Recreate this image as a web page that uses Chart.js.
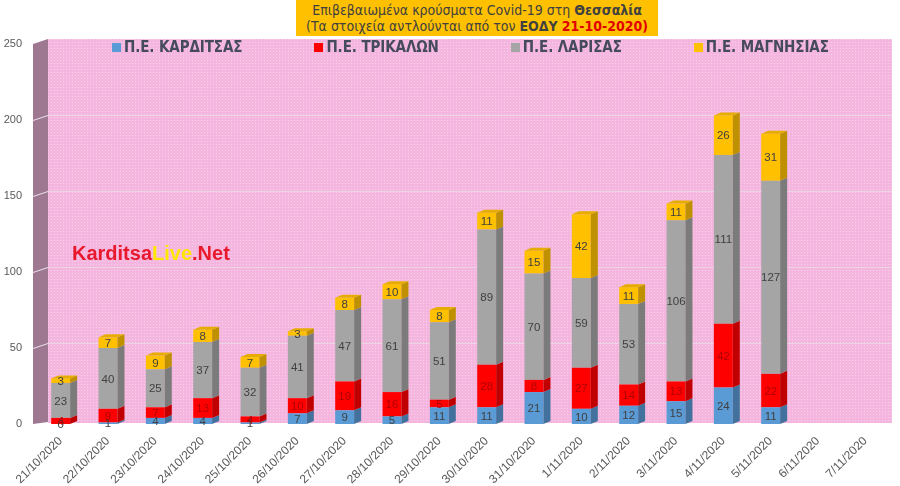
<!DOCTYPE html>
<html>
<head>
<meta charset="utf-8">
<script src="https://cdn.jsdelivr.net/npm/chart.js@4.4.0/dist/chart.umd.min.js"></script>
<style>
    html, body { margin: 0; padding: 0; background: #fff; }
    #wrap { position: relative; width: 900px; height: 486px; overflow: hidden; }
    #title {
        position: absolute; left: 296px; top: 0; width: 362px; height: 36px;
        background: #FFC000; color: #404040; text-align: center;
        font-family: "Liberation Sans Narrow", "DejaVu Sans", sans-serif; font-stretch: condensed;
        font-size: 14px; line-height: 16px; padding-top: 2px; box-sizing: border-box;
    }
    #title .red { color: #E00000; }
    #legend {
        position: absolute; left: 112px; top: 38px; display: flex; gap: 72px;
        font-family: "Liberation Sans Narrow", "DejaVu Sans", sans-serif; font-stretch: condensed;
        font-weight: bold; font-size: 15px; letter-spacing: -0.1px; color: #464A5E; line-height: 18px;
    }
    #legend .sw { display: inline-block; width: 9px; height: 9px; margin-right: 3px; }
    #mark {
        position: absolute; left: 72px; top: 242px; color: #E8192C;
        font-family: "Liberation Sans", sans-serif; font-weight: bold; font-size: 20px;
    }
    #mark span { color: #FFE600; }
</style>
</head>
<body>
<div id="wrap">
    <canvas id="chart" width="900" height="486"></canvas>
    <div id="title">Επιβεβαιωμένα κρούσματα Covid-19 στη <b>Θεσσαλία</b><br>(Τα στοιχεία αντλούνται από τον <b>ΕΟΔΥ</b> <b class="red">21-10-2020)</b></div>
    <div id="legend"></div>
    <div id="mark">Karditsa<span>Live</span>.Net</div>
</div>
<script>
const labels = ['21/10/2020', '22/10/2020', '23/10/2020', '24/10/2020', '25/10/2020', '26/10/2020',
    '27/10/2020', '28/10/2020', '29/10/2020', '30/10/2020', '31/10/2020', '1/11/2020', '2/11/2020',
    '3/11/2020', '4/11/2020', '5/11/2020', '6/11/2020', '7/11/2020']
const karditsa = [0, 1, 4, 4, 1, 7, 9, 5, 11, 11, 21, 10, 12, 15, 24, 11, null, null]
const trikala = [4, 9, 7, 13, 4, 10, 19, 16, 5, 28, 8, 27, 14, 13, 42, 22, null, null]
const larisa = [23, 40, 25, 37, 32, 41, 47, 61, 51, 89, 70, 59, 53, 106, 111, 127, null, null]
const magnisia = [3, 7, 9, 8, 7, 3, 8, 10, 8, 11, 15, 42, 11, 11, 26, 31, null, null]
const seriesNames = ['Π.Ε. ΚΑΡΔΙΤΣΑΣ', 'Π.Ε. ΤΡΙΚΑΛΩΝ', 'Π.Ε. ΛΑΡΙΣΑΣ', 'Π.Ε. ΜΑΓΝΗΣΙΑΣ']
const yTicks = [0, 50, 100, 150, 200, 250]

const frontColors = ['#5B9BD5', '#FF0000', '#A5A5A5', '#FFC000']
const sideColors = ['#41719C', '#C00000', '#7B7B7B', '#BF9000']
const topColors = ['#4F8AC0', '#E00000', '#949494', '#E6AD00']
const labelColors = ['#404040', '#B00000', '#404040', '#404040']

// fake 3d depth
const bar3d = { dx: 7, dy: 3 }
const wall3d = { dx: 11, dy: 5 }

function pinkPattern(ctx) {
    const c = document.createElement('canvas')
    c.width = 3
    c.height = 3
    const p = c.getContext('2d')
    p.fillStyle = '#F4B6DE'
    p.fillRect(0, 0, 3, 3)
    p.fillStyle = '#F9D0EA'
    p.fillRect(0, 0, 1, 1)
    return ctx.createPattern(c, 'repeat')
}

const backdrop = {
    id: 'backdrop',
    beforeDraw(chart) {
        const { ctx, chartArea: a } = chart
        const y = chart.scales.y
        const wl = a.left - 4, wr = a.left + wall3d.dx
        ctx.save()
        ctx.fillStyle = pinkPattern(ctx)
        ctx.fillRect(wr, a.top - wall3d.dy, a.right + 3 - wr, a.bottom - a.top + wall3d.dy - 1)
        ctx.fillStyle = '#9E7791'
        ctx.beginPath()
        ctx.moveTo(wl, a.top)
        ctx.lineTo(wr, a.top - wall3d.dy)
        ctx.lineTo(wr, a.bottom - 2)
        ctx.lineTo(wl, a.bottom)
        ctx.closePath()
        ctx.fill()
        ctx.lineWidth = 1
        yTicks.forEach(v => {
            if (v === 0 || v === 250) return
            const py = Math.round(y.getPixelForValue(v)) + 0.5
            ctx.strokeStyle = 'rgba(255,255,255,0.8)'
            ctx.beginPath()
            ctx.moveTo(wl, py)
            ctx.lineTo(wr, py - wall3d.dy)
            ctx.stroke()
            ctx.strokeStyle = 'rgba(236,214,228,0.95)'
            ctx.beginPath()
            ctx.moveTo(wr, py - wall3d.dy)
            ctx.lineTo(a.right + 3, py - wall3d.dy)
            ctx.stroke()
        })
        ctx.restore()
    }
}

const bars3dPlugin = {
    id: 'bars3d',
    afterDatasetsDraw(chart) {
        const ctx = chart.ctx
        const sets = chart.data.datasets
        ctx.save()
        sets.forEach((ds, di) => {
            const meta = chart.getDatasetMeta(di)
            meta.data.forEach((bar, i) => {
                const v = ds.data[i]
                if (!v) return
                const { x, y, base, width } = bar.getProps(['x', 'y', 'base', 'width'], true)
                const r = x + width / 2, l = x - width / 2
                ctx.fillStyle = sideColors[di]
                ctx.beginPath()
                ctx.moveTo(r, y)
                ctx.lineTo(r + bar3d.dx, y - bar3d.dy)
                ctx.lineTo(r + bar3d.dx, base - bar3d.dy)
                ctx.lineTo(r, base)
                ctx.closePath()
                ctx.fill()
                let top = true
                for (let k = di + 1; k < sets.length; k++) if (sets[k].data[i]) top = false
                if (top) {
                    ctx.fillStyle = topColors[di]
                    ctx.beginPath()
                    ctx.moveTo(l, y)
                    ctx.lineTo(l + bar3d.dx, y - bar3d.dy)
                    ctx.lineTo(r + bar3d.dx, y - bar3d.dy)
                    ctx.lineTo(r, y)
                    ctx.closePath()
                    ctx.fill()
                }
            })
        })
        // value labels
        ctx.font = '11.5px "Liberation Sans", sans-serif'
        ctx.textAlign = 'center'
        ctx.textBaseline = 'middle'
        sets.forEach((ds, di) => {
            chart.getDatasetMeta(di).data.forEach((bar, i) => {
                const v = ds.data[i]
                if (v === null || v === undefined) return
                const { x, y, base } = bar.getProps(['x', 'y', 'base'], true)
                ctx.fillStyle = labelColors[di]
                ctx.fillText(String(v), x, (y + base) / 2 + 1)
            })
        })
        ctx.restore()
    }
}

const chart = new Chart(document.getElementById('chart'), {
    type: 'bar',
    data: {
        labels: labels,
        datasets: [karditsa, trikala, larisa, magnisia].map((d, i) => ({
            label: seriesNames[i],
            data: d,
            backgroundColor: frontColors[i],
            borderWidth: 0,
            categoryPercentage: 0.8,
            barPercentage: 0.5
        }))
    },
    options: {
        responsive: false,
        animation: false,
        layout: { padding: { top: 44, right: 11, left: 0, bottom: 0 } },
        plugins: {
            legend: { display: false },
            tooltip: { enabled: false }
        },
        scales: {
            x: {
                stacked: true,
                grid: { display: false },
                border: { display: false },
                ticks: {
                    autoSkip: false, minRotation: 45, maxRotation: 45, padding: 2,
                    color: '#595959', font: { family: 'Liberation Sans', size: 12 }
                },
                afterFit: s => { s.height = 62 }
            },
            y: {
                stacked: true,
                min: 0,
                max: 250,
                grid: { display: false, drawTicks: false },
                border: { display: false },
                ticks: {
                    stepSize: 50, padding: 15,
                    color: '#595959', font: { family: 'Liberation Sans', size: 11 }
                },
                afterFit: s => { s.width = 37 }
            }
        }
    },
    plugins: [backdrop, bars3dPlugin]
})

// legend built from the datasets
const legendBox = document.getElementById('legend')
chart.data.datasets.forEach(ds => {
    const item = document.createElement('span')
    const sw = document.createElement('span')
    sw.className = 'sw'
    sw.style.background = ds.backgroundColor
    item.appendChild(sw)
    item.appendChild(document.createTextNode(ds.label))
    legendBox.appendChild(item)
})
</script>
</body>
</html>
